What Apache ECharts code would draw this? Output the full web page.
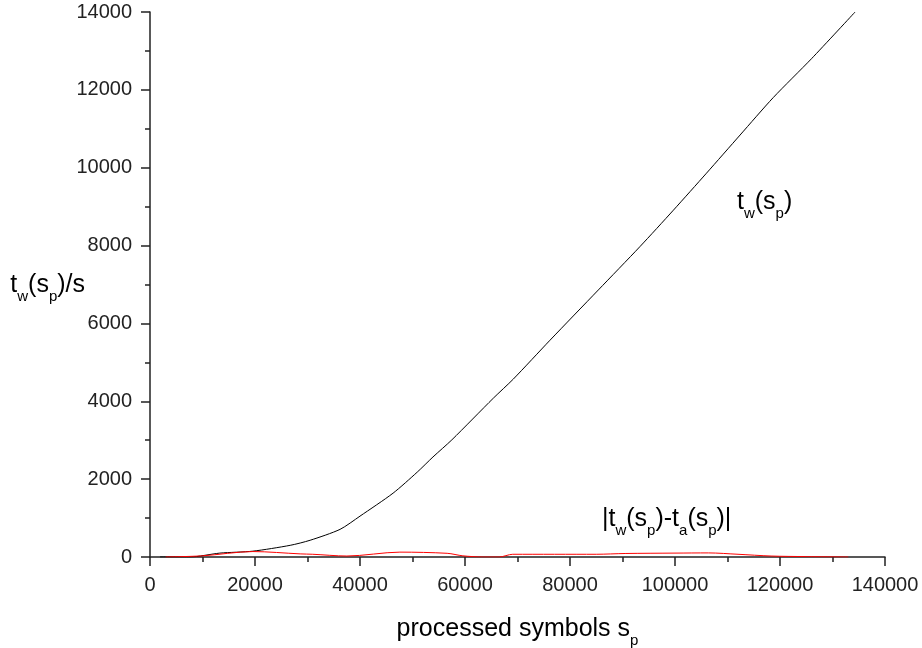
<!DOCTYPE html>
<html lang="en">
<head>
  <meta charset="UTF-8">
  <title>processed symbols</title>
  <script src="https://cdn.jsdelivr.net/npm/echarts@6/dist/echarts.min.js"></script>
  <style>
    html, body { margin: 0; padding: 0; background: #fff; }
  </style>
</head>
<body>
  <div id="main" style="width:922px;height:648px;"></div>
  <script>
    // t_w(s_p) curve
    var twX = [1900, 7600, 13300, 19600, 26700, 30500, 36200, 40000, 46300, 50900, 53900, 57500,
               65400, 69200, 76200, 85400, 93300, 99700, 106000, 112400, 118700, 126000, 134300];
    var twY = [0, 0, 100, 150, 300, 430, 710, 1050, 1640, 2180, 2570, 3010,
               4080, 4570, 5570, 6860, 7970, 8910, 9860, 10840, 11800, 12800, 14000];
    // |t_w(s_p) - t_a(s_p)|
    var dX = [3000, 10000, 19600, 28600, 31000, 37500, 47600, 56600, 59600, 63500, 66500, 69100,
              85000, 90500, 100000, 106400, 112000, 118300, 125000, 133000];
    var dY = [0, 30, 140, 80, 70, 25, 125, 95, 30, 0, 0, 70,
              70, 90, 100, 105, 70, 25, 10, 0];

    var font = "'Liberation Sans', Arial, sans-serif";
    var ink = '#222';

    function pairs(xs, ys) {
      return xs.map(function (x, i) { return [x, ys[i]]; });
    }
    // main text + subscript styles for rich text
    function rich(size, color) {
      var sub = Math.round(size * 0.6);
      return {
        m: { fontSize: size, fontFamily: font, color: color, verticalAlign: 'bottom', lineHeight: size + 2 },
        s: { fontSize: sub, fontFamily: font, color: color, verticalAlign: 'bottom',
             lineHeight: sub, padding: [0, 0, -6, 0] }
      };
    }

    var chart = echarts.init(document.getElementById('main'), null, { renderer: 'canvas' });
    var axisCommon = {
      axisLine: { show: true, lineStyle: { color: ink, width: 1.5 } },
      axisTick: { show: true, inside: false, length: 9, lineStyle: { color: ink, width: 1.5 } },
      minorTick: { show: true, splitNumber: 2, length: 5, lineStyle: { color: ink, width: 1.5 } },
      splitLine: { show: false },
      axisLabel: { color: ink, fontSize: 20, fontFamily: font, margin: 18,
                   formatter: function (v) { return String(v); } }
    };

    var option = {
      animation: false,
      grid: { left: 150, right: 37, top: 12, bottom: 91, containLabel: false, outerBoundsMode: 'none' },
      xAxis: Object.assign({}, axisCommon, {
        type: 'value', min: 0, max: 140000, interval: 20000,
        name: '{m|processed symbols s}{s|p}',
        nameLocation: 'middle', nameGap: 58, nameMoveOverlap: false,
        nameTextStyle: { rich: rich(25, '#000') }
      }),
      yAxis: Object.assign({}, axisCommon, {
        type: 'value', min: 0, max: 14000, interval: 2000,
        name: '{m|t}{s|w}{m|(s}{s|p}{m|)/s}',
        nameLocation: 'middle', nameRotate: 0, nameGap: 65, nameMoveOverlap: false,
        nameTextStyle: { rich: rich(25, '#000') }
      }),
      series: [
        {
          type: 'line', data: pairs(twX, twY), smooth: 0.25, showSymbol: false,
          lineStyle: { color: '#000', width: 1 }, z: 3
        },
        {
          type: 'line', data: pairs(dX, dY), smooth: 0.3, showSymbol: false,
          lineStyle: { color: '#ff0000', width: 1 }, z: 4
        }
      ],
      graphic: [
        {
          type: 'text', left: 737, top: 190,
          style: { text: '{m|t}{s|w}{m|(s}{s|p}{m|)}', rich: rich(25, '#000') }
        },
        {
          type: 'text', left: 602, top: 507,
          style: { text: '{m||t}{s|w}{m|(s}{s|p}{m|)-t}{s|a}{m|(s}{s|p}{m|)|}', rich: rich(25, '#ff0000') }
        }
      ]
    };
    chart.setOption(option);
  </script>
</body>
</html>
